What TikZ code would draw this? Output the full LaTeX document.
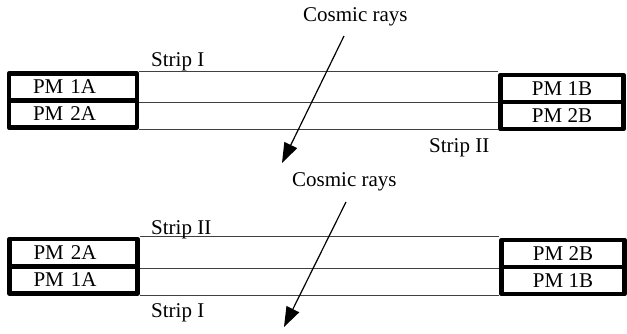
\documentclass[tikz,border=0pt]{standalone}
\usepackage{fontspec}
\setmainfont{Liberation Serif}
\usetikzlibrary{arrows.meta}

\begin{document}
\begin{tikzpicture}[x=1pt, y=-1pt,
  pm/.style={draw, line width=4.5pt, line join=round, minimum height=27pt, inner sep=0pt, font=\fontsize{21}{25}\selectfont},
  pmleft/.style={pm, minimum width=128pt, text width=80pt, align=left},
  pmright/.style={pm, minimum width=123pt},
  lbl/.style={inner sep=0pt, anchor=base west, font=\fontsize{21}{25}\selectfont},
  strip/.style={line width=1.2pt, black!75},
  ray/.style={line width=1.2pt, -{Triangle[length=20pt,width=14pt]}}]
  \useasboundingbox (0,0) rectangle (627,333);

  % upper pair
  \node[pmleft] (up1A) at (73,87) {PM 1A};
  \node[pmleft] (up2A) at (73,114) {PM 2A};
  \node[pmright] (up1B) at (562,88.5) {PM 1B};
  \node[pmright] (up2B) at (562,115.5) {PM 2B};
  \draw[strip] (up1A.north east) -- (up1A.north east -| up1B.west);
  \draw[strip] (up1A.south east) -- (up1A.south east -| up1B.west);
  \draw[strip] (up2A.south east) -- (up2A.south east -| up2B.west);
  \node[lbl] (upStripI) at (151,66) {Strip I};
  \node[lbl] (upStripII) at (429,152) {Strip II};
  \node[lbl] (upRays) at (303,21) {Cosmic rays};
  \coordinate (upRayS) at (344,36);
  \coordinate (upRayE) at (282,163);
  \draw[ray] (upRayS) -- (upRayE);

  % lower pair
  \node[pmleft] (lo2A) at (73.5,252.5) {PM 2A};
  \node[pmleft] (lo1A) at (73.5,280) {PM 1A};
  \node[pmright] (lo2B) at (563,253.5) {PM 2B};
  \node[pmright] (lo1B) at (563,280.5) {PM 1B};
  \draw[strip] (lo2A.north east) -- (lo2A.north east -| lo2B.west);
  \draw[strip] (lo2A.south east) -- (lo2A.south east -| lo2B.west);
  \draw[strip] (lo1A.south east) -- (lo1A.south east -| lo1B.west);
  \node[lbl] (loStripII) at (151,234) {Strip II};
  \node[lbl] (loStripI) at (151,317) {Strip I};
  \node[lbl] (loRays) at (292,186) {Cosmic rays};
  \coordinate (loRayS) at (346,202);
  \coordinate (loRayE) at (284,327);
  \draw[ray] (loRayS) -- (loRayE);
\end{tikzpicture}
\end{document}
